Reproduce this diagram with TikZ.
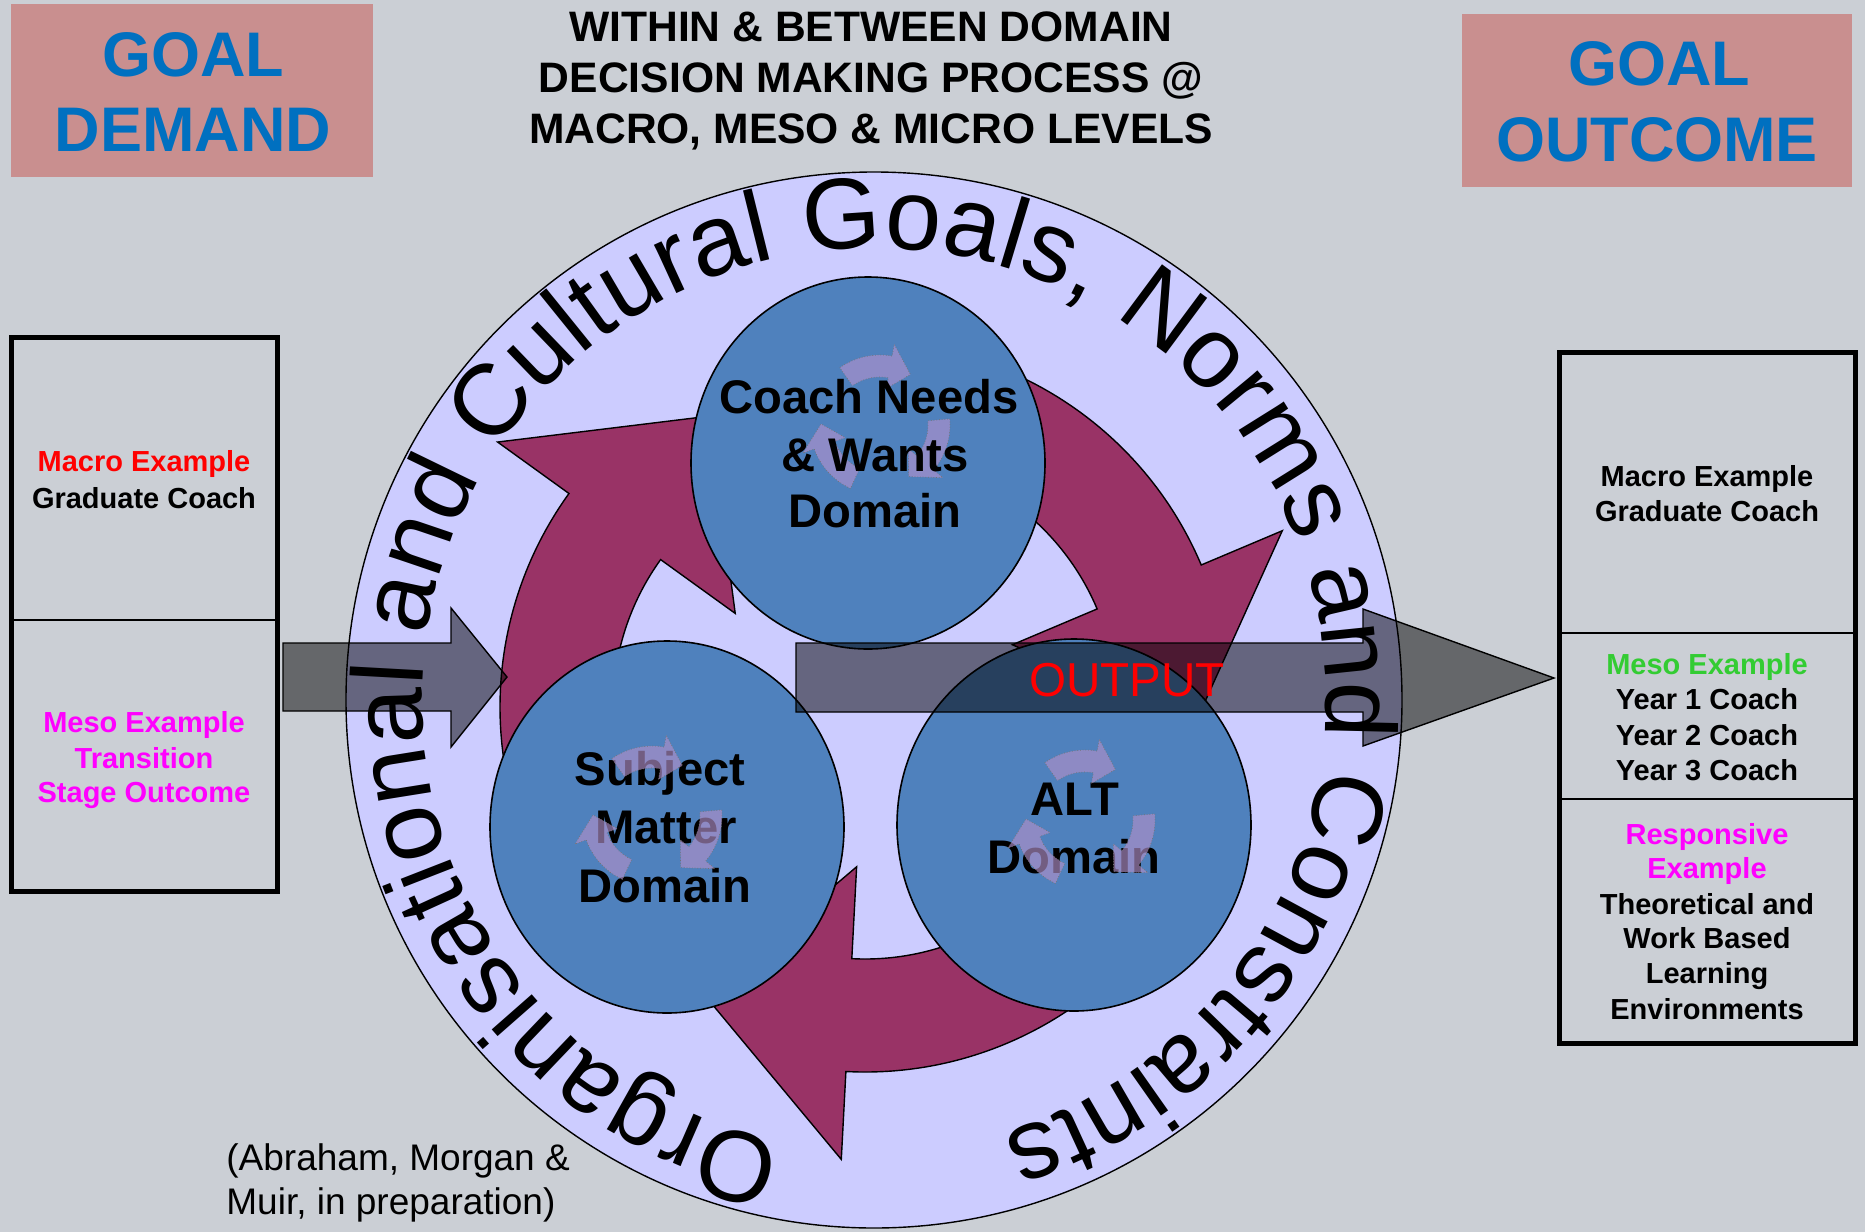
\documentclass[tikz,border=0pt]{standalone}
\usepackage{fontspec}
\setmainfont{Liberation Sans}
\usetikzlibrary{decorations.text}
\definecolor{bgc}{RGB}{203,207,213}
\definecolor{lav}{RGB}{204,204,255}
\definecolor{maroonc}{RGB}{153,51,102}
\definecolor{dblue}{RGB}{79,129,189}
\definecolor{rose}{RGB}{201,143,143}
\definecolor{goalblue}{RGB}{0,112,192}
\definecolor{iconfill}{RGB}{142,139,199}
\definecolor{iconfillb}{RGB}{176,143,200}
\definecolor{mesogreen}{RGB}{51,204,51}
\definecolor{magc}{RGB}{255,0,255}
\definecolor{redc}{RGB}{255,0,0}
\newcommand\fsz[1]{\fontsize{#1}{#1}\selectfont}
\newcommand\ringfont{\fontsize{50.4}{60}\selectfont}
\tikzset{
 cyclearrow/.style={fill=maroonc, draw=black, line width=0.7pt, line join=miter},
 iconarrow/.style={fill=iconfill, draw=black!55, line width=0.35pt, densely dotted},
 iconarrowt/.style={fill=iconfillb, fill opacity=0.65, draw=black!55, line width=0.35pt, densely dotted},
 domcirc/.style={fill=dblue, draw=black, line width=0.8pt},
 bigarrow/.style={fill=black, fill opacity=0.5, draw=black, line width=0.7pt},
 goalbox/.style={fill=rose},
 goaltxt/.style={anchor=base, text=goalblue, font=\bfseries\fsz{31.5}, inner sep=0pt},
 titletxt/.style={anchor=base, font=\bfseries\fsz{21.3}, inner sep=0pt},
 tabtxt/.style={anchor=base, font=\bfseries\fsz{14.5}, inner sep=0pt},
 domtxt/.style={anchor=base, font=\bfseries\fsz{23.6}, inner sep=0pt},
 citetxt/.style={anchor=base west, font=\fsz{18.5}, inner sep=0pt},
 tableframe/.style={draw=black, line width=2.5pt},
 tablerule/.style={draw=black, line width=0.9pt},
}
% big cycle arrow: tail angle, head base angle, tip angle (math angles)
\newcommand\bigarr[3]{%
 \path[cyclearrow] ({-(#1)}:365) arc[start angle={-(#1)}, end angle={-(#2)}, radius=365]
  -- ({-(#2)}:453) -- ({-(#3)}:330) -- ({-(#2)}:160) -- ({-(#2)}:252)
  arc[start angle={-(#2)}, end angle={-(#1)}, radius=252] -- cycle;}
% small icon arrow: style, tail angle
\newcommand\icarr[2]{%
 \path[#1] ({-(#2)}:70) arc[start angle={-(#2)}, end angle={-(#2-45)}, radius=70]
  -- ({-(#2-45)}:82) -- ({-(#2-66)}:59) -- ({-(#2-45)}:37) -- ({-(#2-45)}:48)
  arc[start angle={-(#2-45)}, end angle={-(#2)}, radius=48] -- cycle;}
\newcommand\cycicon[3]{\begin{scope}[shift={(#2,#3)}]\icarr{#1}{125}\icarr{#1}{5}\icarr{#1}{245}\end{scope}}
\begin{document}
\begin{tikzpicture}[x=0.5pt, y=-0.5pt]
\useasboundingbox (0,0) rectangle (1865,1232);
\fill[bgc] (0,0) rectangle (1865,1232);
% big circle
\filldraw[fill=lav, draw=black, line width=0.7pt] (874,700) circle[radius=528];
% cycle arrows
\begin{scope}[shift={(865,707)}]
 \bigarr{210}{144.2}{118.2}
 \bigarr{90}{22.9}{-3.1}
 \bigarr{330}{267}{241}
\end{scope}
% ring text
\path[decorate, decoration={text along path,
  text={|\ringfont|Organisational and Cultural Goals, Norms and Constraints},
  text align={fit to path}}]
  (783.9,1142.9) arc[start angle=-258.5, end angle=73.5, radius=452];
% domain circles
\filldraw[domcirc] (868,463) ellipse[x radius=177, y radius=186];
\filldraw[domcirc] (667,827) ellipse[x radius=177, y radius=186];
\filldraw[domcirc] (1074,825) ellipse[x radius=177, y radius=186];
% icon under text (Coach)
\cycicon{iconarrow}{880}{425}
% domain texts
\node[domtxt] (cn1) at (869,413) {Coach Needs};
\node[domtxt] (cn2) at (875,471) {\& Wants};
\node[domtxt] (cn3) at (875,527) {Domain};
\node[domtxt] (sm1) at (660,785) {Subject};
\node[domtxt] (sm2) at (666,843) {Matter};
\node[domtxt] (sm3) at (665,902) {Domain};
\node[domtxt] (alt1) at (1075,815) {ALT};
\node[domtxt] (alt2) at (1074,873) {Domain};
% icons over text (Subject, ALT)
\cycicon{iconarrowt}{652}{816}
\cycicon{iconarrowt}{1085}{820}
% input and output arrows
\path[bigarrow] (283,643) -- (451,643) -- (451,608) -- (507,677) -- (451,747) -- (451,711) -- (283,711) -- cycle;
\path[bigarrow] (796,643) -- (1363,643) -- (1363,609) -- (1554,678) -- (1363,746) -- (1363,712) -- (796,712) -- cycle;
\node[anchor=base, text=redc, font=\fsz{23.8}, inner sep=0pt] (output) at (1127,696) {OUTPUT};
% goal boxes
\fill[goalbox] (11,4) rectangle (373,177);
\fill[goalbox] (1462,14) rectangle (1852,187);
\node[goaltxt] (gd1) at (193,76) {GOAL};
\node[goaltxt] (gd2) at (193,151) {DEMAND};
\node[goaltxt] (go1) at (1659,85.5) {GOAL};
\node[goaltxt] (go2) at (1657,161.5) {OUTCOME};
% title
\node[titletxt] (t1) at (871,41.3) {WITHIN \& BETWEEN DOMAIN};
\node[titletxt] (t2) at (871,92.3) {DECISION MAKING PROCESS @};
\node[titletxt] (t3) at (871,143.3) {MACRO, MESO \& MICRO LEVELS};
% left table
\draw[tableframe] (11,337) rectangle (277,891);
\draw[tablerule] (11,620) -- (277,620);
\node[tabtxt, text=redc] (l1) at (144,471.4) {Macro Example};
\node[tabtxt] (l2) at (144,508.4) {Graduate Coach};
\node[tabtxt, text=magc] (l3) at (144,732.4) {Meso Example};
\node[tabtxt, text=magc] (l4) at (144,768.4) {Transition};
\node[tabtxt, text=magc] (l5) at (144,802.4) {Stage Outcome};
% right table
\draw[tableframe] (1559,352) rectangle (1855,1043);
\draw[tablerule] (1559,633) -- (1855,633);
\draw[tablerule] (1559,799) -- (1855,799);
\node[tabtxt] (r1) at (1707,486.4) {Macro Example};
\node[tabtxt] (r2) at (1707,521.4) {Graduate Coach};
\node[tabtxt, text=mesogreen] (r3) at (1707,674.4) {Meso Example};
\node[tabtxt] (r4) at (1707,709.4) {Year 1 Coach};
\node[tabtxt] (r5) at (1707,745.4) {Year 2 Coach};
\node[tabtxt] (r6) at (1707,780.4) {Year 3 Coach};
\node[tabtxt, text=magc] (r7) at (1707,844.4) {Responsive};
\node[tabtxt, text=magc] (r8) at (1707,878.4) {Example};
\node[tabtxt] (r9) at (1707,914.4) {Theoretical and};
\node[tabtxt] (r10) at (1707,948.4) {Work Based};
\node[tabtxt] (r11) at (1707,983.4) {Learning};
\node[tabtxt] (r12) at (1707,1019.4) {Environments};
% citation
\node[citetxt] (c1) at (226,1170) {(Abraham, Morgan \&};
\node[citetxt] (c2) at (226,1214) {Muir, in preparation)};
\end{tikzpicture}
\end{document}
